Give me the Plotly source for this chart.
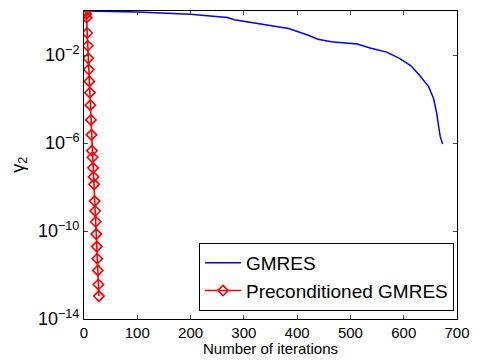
import plotly.graph_objects as go

# GMRES residual history (iteration, log10 of gamma_2)
gmres_x = [0, 100, 200, 269, 282, 367, 384, 421, 439, 464, 513, 537, 568, 592,
           613, 629, 647, 656, 662, 665.5, 668.5, 673]
gmres_log = [0.0, -0.04, -0.15, -0.3, -0.4, -0.74, -0.8, -1.1, -1.28, -1.4, -1.5,
             -1.68, -1.87, -2.15, -2.48, -2.9, -3.45, -3.98, -4.65, -5.25, -5.7, -6.05]
gmres_y = [10 ** v for v in gmres_log]

# Preconditioned GMRES residual history
pre_x = list(range(3, 29))
pre_log = [-0.02, -0.14, -0.30, -1.00, -1.58, -2.15, -2.66, -3.20, -3.71, -4.28,
           -4.95, -5.63, -6.35, -6.65, -7.13, -7.54, -7.88, -8.64, -9.09, -9.58,
           -10.14, -10.71, -11.26, -11.79, -12.43, -12.96]
pre_y = [10 ** v for v in pre_log]

x_ticks = [0, 100, 200, 300, 400, 500, 600, 700]
y_ticks = [1e-14, 1e-10, 1e-6, 1e-2]
y_ticktext = ["10<sup>\u221214</sup>", "10<sup>\u221210</sup>", "10<sup>\u22126</sup>", "10<sup>\u22122</sup>"]

FONT = "Liberation Sans, Arial, Helvetica, sans-serif"

fig = go.Figure()
fig.add_trace(go.Scatter(x=gmres_x, y=gmres_y, mode="lines", name="GMRES",
                         line=dict(color="#0000ff", width=1.5)))
fig.add_trace(go.Scatter(x=pre_x, y=pre_y, mode="lines+markers", name="Preconditioned GMRES",
                         line=dict(color="#ff0000", width=1.6),
                         marker=dict(symbol="diamond-open", size=8, color="#ff0000",
                                     line=dict(width=1.6, color="#ff0000"))))

fig.update_layout(
    width=480, height=360,
    margin=dict(l=84, r=15, t=10, b=41),
    paper_bgcolor="white", plot_bgcolor="white",
    font=dict(family=FONT, size=16, color="black"),
    showlegend=True,
    legend=dict(x=0.992, y=0.026, xanchor="right", yanchor="bottom",
                bordercolor="black", borderwidth=1, bgcolor="white",
                font=dict(size=19), tracegroupgap=0, itemwidth=36),
    xaxis=dict(range=[0, 700], tickvals=x_ticks, ticks="inside", ticklen=4,
               showline=True, linecolor="black", linewidth=1, mirror="ticks",
               showgrid=False, zeroline=False, tickfont=dict(size=15)),
    yaxis=dict(type="log", range=[-14, 0], tickvals=y_ticks, ticktext=y_ticktext,
               ticks="inside", ticklen=4, showline=True, linecolor="black", linewidth=1,
               mirror="ticks", showgrid=False, zeroline=False, tickfont=dict(size=18)),
    annotations=[
        dict(text="Number of iterations", x=0.5, y=-0.131, xref="paper", yref="paper",
             xanchor="center", yanchor="bottom", showarrow=False, font=dict(size=15)),
        dict(text="\u03b3<sub>2</sub>", x=-0.175, y=0.5, xref="paper", yref="paper",
             xanchor="center", yanchor="middle", showarrow=False, textangle=-90,
             font=dict(size=18)),
    ],
)

fig.write_html("out.html")
